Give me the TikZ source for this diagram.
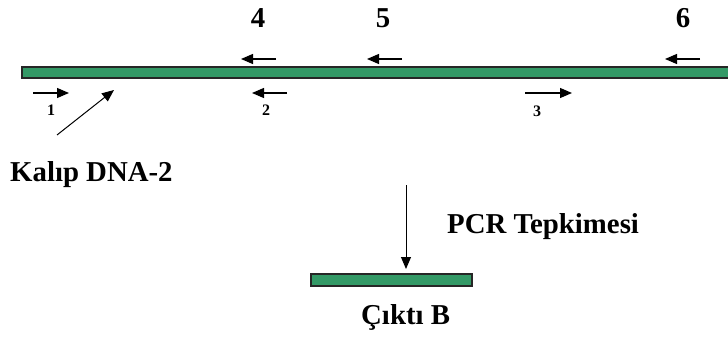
\documentclass[tikz,border=0pt]{standalone}
\usepackage{fontspec}
\setmainfont{Liberation Serif}
\usetikzlibrary{arrows.meta}
\definecolor{dnagreen}{RGB}{51,153,102}
\tikzset{
  strand/.style={fill=dnagreen, draw=black!85, line width=1.2pt},
  primer/.style={line width=1.2pt, -{Triangle[length=12pt,width=10pt]}},
  pointer/.style={line width=1pt, -{Triangle[length=12pt,width=10pt]}},
  biglabel/.style={font=\fontsize{28.8}{32}\selectfont\bfseries, inner sep=0pt},
  smalllabel/.style={font=\fontsize{16}{18}\selectfont\bfseries, inner sep=0pt},
}
\begin{document}
\begin{tikzpicture}[x=1pt,y=-1pt]
\useasboundingbox (0,0) rectangle (728,345);
\clip (0,0) rectangle (728,345);

% template strand
\draw[strand] (22,67) rectangle (740,78);

% reverse primers above the strand
\coordinate (p4s) at (276,59); \coordinate (p4e) at (241,59);
\coordinate (p5s) at (402,59); \coordinate (p5e) at (367,59);
\coordinate (p6s) at (700,59); \coordinate (p6e) at (665,59);
\draw[primer] (p4s) -- (p4e);
\draw[primer] (p5s) -- (p5e);
\draw[primer] (p6s) -- (p6e);
\node[biglabel, anchor=base] (l4) at (258,28) {4};
\node[biglabel, anchor=base] (l5) at (383,28) {5};
\node[biglabel, anchor=base] (l6) at (683,28) {6};

% primers below the strand
\coordinate (p1s) at (33,93);  \coordinate (p1e) at (69,93);
\coordinate (p2s) at (287,93); \coordinate (p2e) at (252,93);
\coordinate (p3s) at (525,93); \coordinate (p3e) at (572,93);
\draw[primer] (p1s) -- (p1e);
\draw[primer] (p2s) -- (p2e);
\draw[primer] (p3s) -- (p3e);
\node[smalllabel, anchor=base] (l1) at (51,115) {1};
\node[smalllabel, anchor=base] (l2) at (266,115) {2};
\node[smalllabel, anchor=base] (l3) at (537,116) {3};

% template label with pointer
\node[biglabel, anchor=base west] (kalip) at (10,181) {Kalıp DNA-2};
\coordinate (ptail) at (57,135);
\coordinate (phead) at (114,90);
\draw[pointer] (ptail) -- (phead);

% reaction step
\coordinate (rtop) at (406,185);
\coordinate (rbot) at (406,269);
\draw[pointer] (rtop) -- (rbot);
\node[biglabel, anchor=base west] (pcr) at (447,233) {PCR Tepkimesi};

% product
\draw[strand] (311,274) rectangle (472,286);
\node[biglabel, anchor=base west] (cikti) at (361,324) {Çıktı B};
\end{tikzpicture}
\end{document}
